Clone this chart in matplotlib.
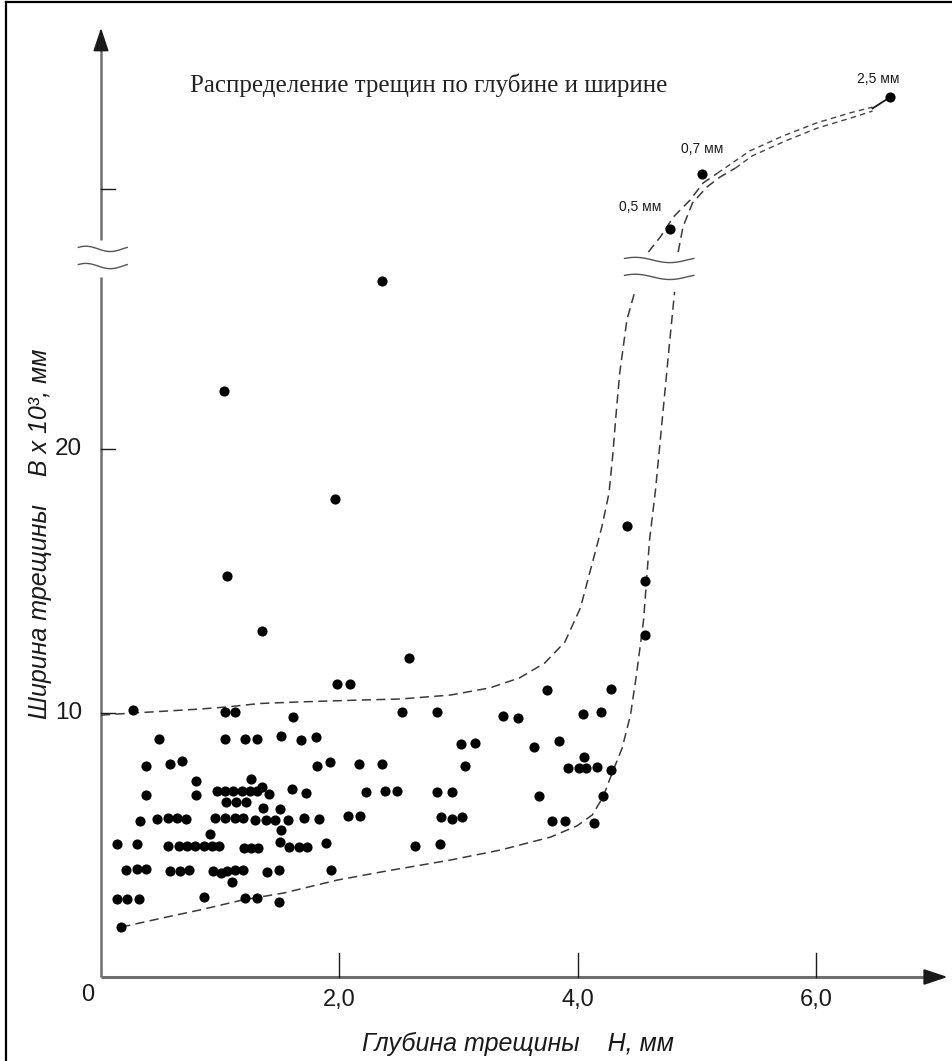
import matplotlib

matplotlib.use("Agg")
import matplotlib.pyplot as plt
import numpy as np
from matplotlib.lines import Line2D

# crack depth H (mm) and crack width B (x10^3 mm), grouped roughly by width band
depth = [
    1.03, 1.96, 1.06, 1.35, 2.58, 1.98, 2.09, 2.36, 4.41, 4.56, 4.56, 3.74, 4.28,
    0.27, 1.04, 1.12, 1.61, 2.52, 2.82, 3.37, 3.50, 4.04, 4.19,
    0.49, 1.04, 1.21, 1.31, 1.51, 1.68, 1.80, 3.02, 3.14, 3.63, 3.84,
    0.38, 0.58, 0.68, 1.81, 1.92, 2.16, 2.36, 3.05, 4.05, 3.92, 4.01, 4.07, 4.16, 4.28,
    0.80, 1.26,
    0.38, 0.80, 0.97, 1.04, 1.11, 1.18, 1.25, 1.31, 1.35, 1.41, 1.60, 1.72, 2.22, 2.38,
    2.48, 2.82, 2.94, 3.67, 4.21,
    1.05, 1.13, 1.22, 1.36, 1.50,
    0.33, 0.47, 0.56, 0.64, 0.71, 0.96, 1.04, 1.12, 1.19, 1.29, 1.38, 1.46, 1.57, 1.70,
    1.83, 2.07, 2.17, 2.85, 2.94, 3.03, 3.78, 3.89, 4.13,
    0.91, 1.51,
    0.13, 0.30, 0.56, 0.65, 0.72, 0.79, 0.86, 0.93, 0.99, 1.20, 1.26, 1.32, 1.50, 1.58,
    1.66, 1.73, 1.89, 2.63, 2.84,
    0.21, 0.30, 0.38, 0.58, 0.66, 0.74, 0.94, 1.01, 1.06, 1.12, 1.19, 1.10, 1.39, 1.49,
    1.93,
    0.13, 0.22, 0.32, 0.86, 1.21, 1.31, 1.49,
    0.17,
]
width = [
    22.2, 18.1, 15.2, 13.1, 12.07, 11.09, 11.09, 26.38, 17.09, 15.01, 12.95, 10.87, 10.92,
    10.11, 10.03, 10.03, 9.86, 10.05, 10.05, 9.90, 9.82, 9.95, 10.03,
    9.03, 9.00, 9.00, 9.00, 9.11, 8.98, 9.10, 8.81, 8.86, 8.72, 8.94,
    8.00, 8.07, 8.19, 8.00, 8.13, 8.07, 8.07, 8.00, 8.32, 7.93, 7.93, 7.93, 7.97, 7.84,
    7.41, 7.50,
    6.91, 6.88, 7.05, 7.05, 7.05, 7.05, 7.05, 7.05, 7.21, 6.92, 7.14, 6.97, 6.99, 7.05,
    7.05, 7.00, 7.02, 6.86, 6.86,
    6.63, 6.63, 6.63, 6.41, 6.35,
    5.90, 5.98, 6.02, 6.02, 6.00, 6.04, 6.04, 6.04, 6.04, 5.95, 5.95, 5.95, 5.93, 6.02,
    6.00, 6.09, 6.09, 6.07, 5.98, 6.07, 5.90, 5.90, 5.85,
    5.43, 5.58,
    5.05, 5.05, 4.96, 4.96, 4.96, 4.96, 4.96, 4.96, 4.96, 4.88, 4.88, 4.88, 5.11, 4.91,
    4.91, 4.91, 5.06, 4.97, 5.03,
    4.05, 4.10, 4.10, 4.02, 4.02, 4.05, 4.02, 3.93, 4.02, 4.05, 4.05, 3.59, 3.97, 4.04,
    4.06,
    2.94, 2.94, 2.94, 3.02, 3.00, 3.00, 2.85,
    1.91,
]

# wide cracks plotted above the axis break
depth_wide = [4.77, 5.04, 6.62]
width_wide_mm = [0.5, 0.7, 2.5]
pos_wide = [28.33, 30.42, 33.34]

# envelope of the scatter (upper/left and lower/right dashed lines)
env_top_h = [0.0, 0.27, 0.50, 0.83, 1.06, 1.33, 1.67, 2.17, 2.51, 2.93, 3.26, 3.51,
             3.72, 3.89, 4.02, 4.12, 4.20, 4.26, 4.29, 4.32, 4.35, 4.41, 4.48]
env_top_b = [9.92, 10.0, 10.06, 10.15, 10.23, 10.36, 10.42, 10.49, 10.53, 10.68, 10.95,
             11.33, 11.89, 12.69, 13.98, 15.68, 17.05, 18.33, 19.70, 21.36, 22.88, 24.89,
             26.02]
env_bot_h = [0.17, 0.55, 0.83, 1.19, 1.53, 1.98, 2.40, 2.93, 3.35, 3.77, 3.99, 4.12,
             4.21, 4.29, 4.37, 4.44, 4.49, 4.55, 4.60, 4.65, 4.69, 4.73, 4.77, 4.81]
env_bot_b = [1.89, 2.27, 2.54, 2.92, 3.18, 3.67, 4.02, 4.43, 4.81, 5.30, 5.72, 6.14,
             6.82, 7.77, 8.67, 9.92, 11.44, 13.52, 16.55, 18.45, 20.34, 22.23, 24.13,
             25.95]
# continuation above the break
up_left_h = [4.59, 4.69, 4.80, 4.94, 5.05, 5.17]
up_left_b = [27.46, 28.03, 28.79, 29.43, 30.08, 30.45]
up_right_h = [4.84, 4.88, 4.96, 5.08, 5.19, 5.32]
up_right_b = [27.46, 28.41, 29.32, 29.92, 30.30, 30.64]
tail_a_h = [5.17, 5.44, 5.72, 6.00, 6.28, 6.47]
tail_a_b = [30.45, 31.29, 31.86, 32.35, 32.73, 32.95]
tail_b_h = [5.32, 5.46, 5.74, 6.01, 6.29, 6.47]
tail_b_b = [30.64, 31.10, 31.67, 32.16, 32.54, 32.80]

x_ticks = [2.0, 4.0, 6.0]
x_tick_labels = ["2,0", "4,0", "6,0"]
y_ticks = [10, 20]
y_tick_labels = ["10", "20"]
y_tick_upper = 29.85

TITLE = "Распределение трещин по глубине и ширине"
XLABEL = "Глубина трещины    H, мм"
YLABEL = "Ширина трещины    B x 10³, мм"

SANS = ["Liberation Sans", "DejaVu Sans"]
SERIF = ["Liberation Serif", "DejaVu Serif"]
AXIS_GREY = "#6e6e6e"
INK = "#1a1a1a"
DASH = (0, (6, 3.5))

fig = plt.figure(figsize=(9.53, 10.61), dpi=100)
ax = fig.add_axes([0, 0, 1, 1])
# 119.25 px per mm of depth, 26.4 px per width unit, origin 101 px from left, 977 px from top
ax.set_xlim(-101 / 119.25, (953 - 101) / 119.25)
ax.set_ylim(-(1061 - 977) / 26.4, 977 / 26.4)
ax.axis("off")

# frame on left and top edges
fig.add_artist(Line2D([0.006, 0.006], [0, 0.998], transform=fig.transFigure, color="black", lw=1.6))
fig.add_artist(Line2D([0.006, 1], [0.998, 0.998], transform=fig.transFigure, color="black", lw=1.6))

# axes with arrows
x_end, y_top = 7.10, 35.95
brk_lo, brk_hi = 26.5, 27.9
ax.plot([0, x_end - 0.1], [0, 0], color=AXIS_GREY, lw=2.2, solid_capstyle="butt")
ax.annotate("", xy=(x_end, 0), xytext=(x_end - 0.15, 0),
            arrowprops=dict(arrowstyle="-|>,head_length=0.9,head_width=0.3", color=INK,
                            lw=1.5, mutation_scale=16, shrinkA=0, shrinkB=0))
ax.plot([0, 0], [0, brk_lo], color=AXIS_GREY, lw=1.8, solid_capstyle="butt")
ax.plot([0, 0], [brk_hi, y_top - 0.4], color=AXIS_GREY, lw=1.8, solid_capstyle="butt")
ax.annotate("", xy=(0, y_top), xytext=(0, y_top - 0.6),
            arrowprops=dict(arrowstyle="-|>,head_length=0.9,head_width=0.3", color=INK,
                            lw=1.2, mutation_scale=16, shrinkA=0, shrinkB=0))

# break marks
t = np.linspace(0, 1, 60)
for yc in (27.58, 26.93):
    ax.plot(-0.19 + 0.41 * t, yc + 0.1 * np.sin(2 * np.pi * t + 0.6), color="#555555", lw=1.0)
for yc in (27.16, 26.52):
    ax.plot(4.39 + 0.58 * t, yc + 0.1 * np.sin(2 * np.pi * t + 0.6), color="#555555", lw=1.0)

# ticks
for xt, lab in zip(x_ticks, x_tick_labels):
    ax.plot([xt, xt], [0, 0.91], color=INK, lw=1.0)
    ax.text(xt, -0.87, lab, ha="center", va="center", fontsize=17, family=SANS, color=INK)
ax.text(-0.11, -0.68, "0", ha="center", va="center", fontsize=17, family=SANS, color=INK)
for yt, lab in zip(y_ticks, y_tick_labels):
    ax.plot([0, 0.12], [yt, yt], color=INK, lw=1.0)
    ax.text(-0.16, yt, lab, ha="right", va="center", fontsize=17.5, family=SANS, color=INK)
ax.plot([0, 0.12], [y_tick_upper, y_tick_upper], color=INK, lw=1.0)

# envelopes
for hs, bs in ((env_top_h, env_top_b), (env_bot_h, env_bot_b),
               (up_left_h, up_left_b), (up_right_h, up_right_b)):
    ax.plot(hs, bs, color="#3a3a3a", lw=1.1, linestyle=DASH)
for hs, bs in ((tail_a_h, tail_a_b), (tail_b_h, tail_b_b)):
    ax.plot(hs, bs, color="#444444", lw=1.0, linestyle=(0, (4, 3)))
ax.plot([tail_a_h[-1], depth_wide[-1] - 0.04], [tail_a_b[-1] - 0.05, pos_wide[-1] - 0.12],
        color=INK, lw=1.3)

# scatter
ax.plot(depth, width, "o", ms=6.3, color="black", mec="black")
ax.plot(depth_wide, pos_wide, "o", ms=6.3, color="black", mec="black")
offsets = [(-21, 16), (0, 18), (-9, 13)]
for h, p, w, off in zip(depth_wide, pos_wide, width_wide_mm, offsets):
    ax.annotate(f"{w:.1f}".replace(".", ",") + " мм", (h, p), xytext=off,
                textcoords="offset points", ha="center", va="center",
                fontsize=10, family=SANS, color=INK)

ax.text(2.75, 33.79, TITLE, ha="center", va="center", fontsize=18, family=SERIF, color="#222222")
ax.text(3.50, -2.52, XLABEL, ha="center", va="center", fontsize=18, family=SANS,
        style="italic", color=INK)
ax.text(-0.51, 16.8, YLABEL, ha="center", va="center", fontsize=18, family=SANS,
        style="italic", rotation=90, color=INK)

fig.savefig("out.png", dpi=100)
